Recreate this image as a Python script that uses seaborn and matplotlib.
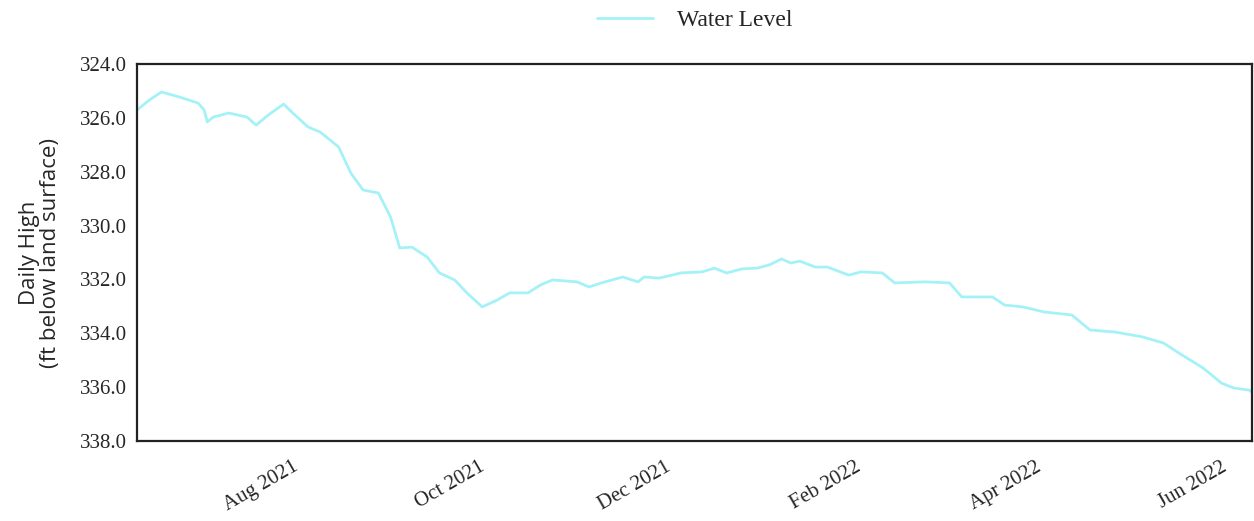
import matplotlib
matplotlib.use("Agg")
import matplotlib.pyplot as plt
import matplotlib.dates as mdates
import seaborn as sns
import pandas as pd

dates = [
    "2021-06-08", "2021-06-12", "2021-06-16", "2021-06-22", "2021-06-28", "2021-06-30",
    "2021-07-01", "2021-07-03", "2021-07-08", "2021-07-14", "2021-07-17", "2021-07-21",
    "2021-07-26", "2021-07-29", "2021-08-03", "2021-08-07", "2021-08-13", "2021-08-17",
    "2021-08-21", "2021-08-26", "2021-08-30", "2021-09-02", "2021-09-06", "2021-09-11",
    "2021-09-15", "2021-09-20", "2021-09-24", "2021-09-29", "2021-10-04", "2021-10-08",
    "2021-10-14", "2021-10-18", "2021-10-22", "2021-10-30", "2021-11-03", "2021-11-07",
    "2021-11-14", "2021-11-19", "2021-11-21", "2021-11-26", "2021-12-03", "2021-12-10",
    "2021-12-14", "2021-12-18", "2021-12-23", "2021-12-28", "2022-01-01", "2022-01-05",
    "2022-01-08", "2022-01-11", "2022-01-16", "2022-01-20", "2022-01-27", "2022-01-31",
    "2022-02-07", "2022-02-11", "2022-02-21", "2022-03-01", "2022-03-05", "2022-03-15",
    "2022-03-19", "2022-03-25", "2022-04-01", "2022-04-10", "2022-04-16", "2022-04-24",
    "2022-05-03", "2022-05-10", "2022-05-16", "2022-05-23", "2022-05-29", "2022-06-02",
    "2022-06-07", "2022-06-08",
]
water_level = [
    325.71, 325.34, 325.04, 325.23, 325.45, 325.71,
    326.15, 325.97, 325.82, 325.97, 326.27, 325.89,
    325.49, 325.82, 326.34, 326.53, 327.08, 328.05,
    328.68, 328.79, 329.68, 330.83, 330.80, 331.17,
    331.76, 332.02, 332.50, 333.02, 332.76, 332.50,
    332.50, 332.21, 332.02, 332.09, 332.28, 332.13,
    331.91, 332.09, 331.91, 331.95, 331.76, 331.72,
    331.58, 331.76, 331.61, 331.58, 331.46, 331.24,
    331.39, 331.32, 331.54, 331.54, 331.84, 331.72,
    331.76, 332.13, 332.09, 332.13, 332.65, 332.65,
    332.95, 333.02, 333.21, 333.32, 333.88, 333.95,
    334.13, 334.36, 334.80, 335.29, 335.85, 336.03,
    336.11, 336.18,
]
y_ticks = [324.0, 326.0, 328.0, 330.0, 332.0, 334.0, 336.0, 338.0]
x_tick_dates = ["2021-08-01", "2021-10-01", "2021-12-01", "2022-02-01", "2022-04-01", "2022-06-01"]
series_name = "Water Level"

df = pd.DataFrame({"date": pd.to_datetime(dates), "value": water_level, "series": series_name})

sns.set_theme(style="white")
plt.rcParams["font.family"] = ["Liberation Serif", "DejaVu Sans"]

fig = plt.figure(figsize=(12.54, 5.21), dpi=100)
ax = fig.add_axes([137 / 1254, 1 - 441 / 521, (1252 - 137) / 1254, (441 - 64) / 521])

sns.lineplot(data=df, x="date", y="value", hue="series", palette=["#a4f2f7"],
             linewidth=2.0, ax=ax)

ax.set_xlim(pd.Timestamp("2021-06-08"), pd.Timestamp("2022-06-08"))
ax.set_ylim(338.0, 324.0)
ax.set_yticks(y_ticks)
ax.set_yticklabels([f"{v:.1f}" for v in y_ticks], fontsize=15)
ax.set_xticks(pd.to_datetime(x_tick_dates))
ax.xaxis.set_major_formatter(mdates.DateFormatter("%b %Y"))
for lbl in ax.get_xticklabels():
    lbl.set_rotation(30)
    lbl.set_ha("right")
    lbl.set_fontsize(15)
ax.tick_params(axis="y", length=0, pad=7)
ax.tick_params(axis="x", length=0, pad=12)

ax.set_xlabel("")
ax.set_ylabel("Daily High\n(ft below land surface)", fontsize=16,
              family=["Open Sans", "DejaVu Sans"], labelpad=14, linespacing=1.0)

for s in ax.spines.values():
    s.set_visible(True)
    s.set_color("#222222")
    s.set_linewidth(1.6)

leg = ax.legend(loc="lower center", bbox_to_anchor=(0.5, 1.03), frameon=False,
                fontsize=17, handlelength=2.4, handletextpad=1.0)
for line in leg.get_lines():
    line.set_linewidth(2.0)

fig.savefig("out.png", dpi=100, facecolor="white")
